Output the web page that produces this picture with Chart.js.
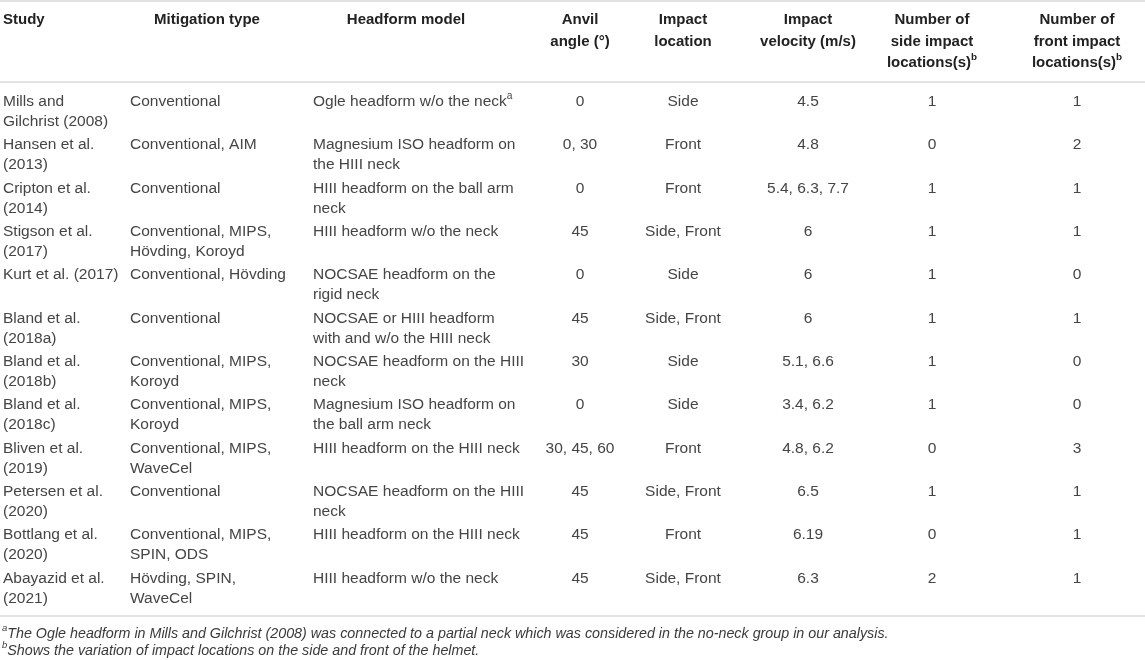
<!DOCTYPE html>
<html>
<head>
<meta charset="utf-8">
<script src="https://cdn.jsdelivr.net/npm/chart.js@4"></script>
<style>
html, body { margin: 0; padding: 0; background: #fff; }
#wrap { width: 1145px; height: 660px; position: relative; }
</style>
</head>
<body>
<div id="wrap"><canvas id="studyTable"></canvas></div>
<script>
// table content, one array per column ("\n" = line break, "^x" = superscript)
const studies = ['Mills and\nGilchrist (2008)', 'Hansen et al.\n(2013)', 'Cripton et al.\n(2014)', 'Stigson et al.\n(2017)', 'Kurt et al. (2017)', 'Bland et al.\n(2018a)', 'Bland et al.\n(2018b)', 'Bland et al.\n(2018c)', 'Bliven et al.\n(2019)', 'Petersen et al.\n(2020)', 'Bottlang et al.\n(2020)', 'Abayazid et al.\n(2021)'];
const mitigationTypes = ['Conventional', 'Conventional, AIM', 'Conventional', 'Conventional, MIPS,\nHövding, Koroyd', 'Conventional, Hövding', 'Conventional', 'Conventional, MIPS,\nKoroyd', 'Conventional, MIPS,\nKoroyd', 'Conventional, MIPS,\nWaveCel', 'Conventional', 'Conventional, MIPS,\nSPIN, ODS', 'Hövding, SPIN,\nWaveCel'];
const headformModels = ['Ogle headform w/o the neck^a', 'Magnesium ISO headform on\nthe HIII neck', 'HIII headform on the ball arm\nneck', 'HIII headform w/o the neck', 'NOCSAE headform on the\nrigid neck', 'NOCSAE or HIII headform\nwith and w/o the HIII neck', 'NOCSAE headform on the HIII\nneck', 'Magnesium ISO headform on\nthe ball arm neck', 'HIII headform on the HIII neck', 'NOCSAE headform on the HIII\nneck', 'HIII headform on the HIII neck', 'HIII headform w/o the neck'];
const anvilAngles = ['0', '0, 30', '0', '45', '0', '45', '30', '0', '30, 45, 60', '45', '45', '45'];
const impactLocations = ['Side', 'Front', 'Front', 'Side, Front', 'Side', 'Side, Front', 'Side', 'Side', 'Front', 'Side, Front', 'Front', 'Side, Front'];
const impactVelocities = ['4.5', '4.8', '5.4, 6.3, 7.7', '6', '6', '6', '5.1, 6.6', '3.4, 6.2', '4.8, 6.2', '6.5', '6.19', '6.3'];
const sideImpactCounts = [1, 0, 1, 1, 1, 1, 1, 1, 0, 1, 0, 2];
const frontImpactCounts = [1, 2, 1, 1, 0, 1, 0, 0, 3, 1, 1, 1];
const headers = ['Study', 'Mitigation type', 'Headform model', 'Anvil\nangle (°)', 'Impact\nlocation', 'Impact\nvelocity (m/s)', 'Number of\nside impact\nlocations(s)^b', 'Number of\nfront impact\nlocations(s)^b'];
const footnotes = ['^aThe Ogle headform in Mills and Gilchrist (2008) was connected to a partial neck which was considered in the no-neck group in our analysis.', '^bShows the variation of impact locations on the side and front of the helmet.'];

const columns = [studies, mitigationTypes, headformModels, anvilAngles, impactLocations, impactVelocities, sideImpactCounts, frontImpactCounts];

// layout (x positions on the x scale, which spans the page width)
const colX = [3, 130, 313, 580, 683, 808, 932, 1077];
const colAlign = ['left', 'left', 'left', 'center', 'center', 'center', 'center', 'center'];
const headX = [3, 207, 406, 580, 683, 808, 932, 1077];
const headAlign = ['left', 'center', 'center', 'center', 'center', 'center', 'center', 'center'];
const FONT = '"Liberation Sans", Arial, sans-serif';

function drawRich(ctx, text, x, y, align, size, style, color) {
  const parts = [];
  text.split(/(\^\w)/).forEach(function (p) {
    if (!p) return;
    if (p[0] === '^') parts.push({ t: p.slice(1), sup: true });
    else parts.push({ t: p, sup: false });
  });
  const fontFor = function (sup) { return style + ' ' + (sup ? size * 0.66 : size) + 'px ' + FONT; };
  let w = 0;
  parts.forEach(function (p) { ctx.font = fontFor(p.sup); p.w = ctx.measureText(p.t).width; w += p.w; });
  let cx = align === 'center' ? x - w / 2 : x;
  ctx.fillStyle = color;
  ctx.textAlign = 'left';
  ctx.textBaseline = 'middle';
  parts.forEach(function (p) {
    ctx.font = fontFor(p.sup);
    ctx.fillText(p.t, cx, p.sup ? y - size * 0.36 : y);
    cx += p.w;
  });
}

const tablePlugin = {
  id: 'tablePlugin',
  afterDraw(chart) {
    const ctx = chart.ctx;
    const xs = chart.scales.x;
    const ys = chart.scales.y;
    const lineH = 20;
    ctx.save();

    // rules
    ctx.strokeStyle = '#d9d9d9';
    ctx.lineWidth = 1.5;
    [1, 82, ys.bottom + 6].forEach(function (yy) {
      ctx.beginPath();
      ctx.moveTo(xs.left, yy);
      ctx.lineTo(xs.right, yy);
      ctx.stroke();
    });

    // header
    headers.forEach(function (h, c) {
      h.split('\n').forEach(function (line, k) {
        drawRich(ctx, line, xs.getPixelForValue(headX[c]), 20 + k * 21.5, headAlign[c], 15, 'bold', '#222');
      });
    });

    // body cells
    studies.forEach(function (s, r) {
      const top = ys.getPixelForValue(r) - lineH / 2;
      columns.forEach(function (col, c) {
        String(col[r]).split('\n').forEach(function (line, k) {
          drawRich(ctx, line, xs.getPixelForValue(colX[c]), top + k * lineH, colAlign[c], 15.5, 'normal', '#454545');
        });
      });
    });

    // footnotes
    footnotes.forEach(function (f, k) {
      drawRich(ctx, f, xs.left + 2, ys.bottom + 24 + k * 17, 'left', 14.3, 'italic', '#3a3a3a');
    });
    ctx.restore();
  }
};

new Chart(document.getElementById('studyTable'), {
  type: 'scatter',
  data: { datasets: [] },
  options: {
    responsive: true,
    maintainAspectRatio: false,
    animation: false,
    layout: { padding: { top: 90, bottom: 50, left: 0, right: 0 } },
    plugins: { legend: { display: false }, tooltip: { enabled: false } },
    scales: {
      x: { type: 'linear', min: 0, max: 1145, display: false },
      y: { type: 'category', labels: studies.map(function (s, i) { return i; }), offset: true, display: false }
    }
  },
  plugins: [tablePlugin]
});
</script>
</body>
</html>
